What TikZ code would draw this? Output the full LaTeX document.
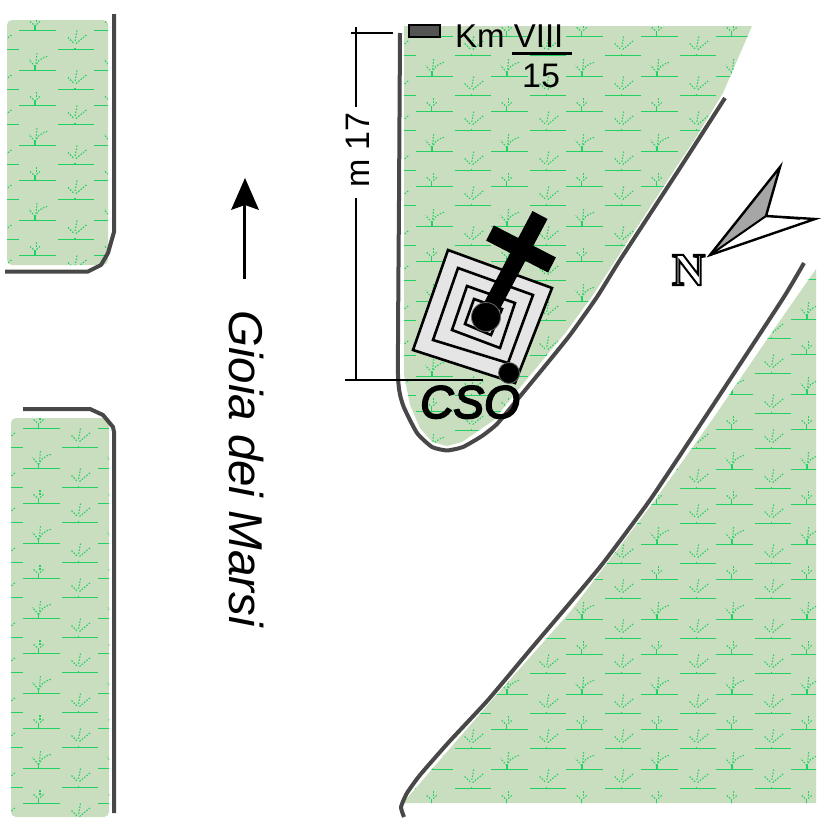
\documentclass[tikz,border=0pt]{standalone}
\usepackage{fontspec}
\setmainfont{Liberation Sans}
\newfontfamily\slabfont{Liberation Serif}
\definecolor{meadow}{HTML}{C8DEBE}
\definecolor{grass}{HTML}{22D064}
\definecolor{roadline}{HTML}{484848}
\tikzset{
  kerb/.style={draw=roadline,line width=4pt,line join=round},
  blade/.style={draw=grass,line width=1.2pt},
  dotted blade/.style={draw=grass,line width=1.1pt,dash pattern=on 1.5pt off 1.5pt},
  ring/.style={draw=black,line width=2.6pt,fill=none},
  dimline/.style={draw=black,line width=2pt},
  label text/.style={inner sep=0pt,text=black}
}
\newcommand{\plantBig}[2]{%
  \begin{scope}[shift={(#1,#2+0.5)}]
    \draw[blade] (-15.7,0) -- (21.3,0);
    \draw[blade,line width=1.8pt] (0,0) -- (0,-5);
    \draw[dotted blade] (0,-4) -- (-6,-11);
    \draw[dotted blade] (1,-7) -- (2,-18);
    \draw[dotted blade] (0,-4) -- (4,-10) -- (8,-12.5) -- (13,-14.5);
  \end{scope}}
\newcommand{\plantSmall}[2]{%
  \begin{scope}[shift={(#1,#2+0.5)}]
    \draw[blade] (-15.7,0) -- (21.3,0);
    \draw[blade] (0,0) -- (0,-6);
    \draw[dotted blade] (1.5,-9) -- (1.5,-14);
    \draw[dotted blade] (-5,-9) -- (-1.5,-6);
    \draw[dotted blade] (5,-9) -- (1.5,-6);
  \end{scope}}
\newcommand{\plantFan}[2]{%
  \begin{scope}[shift={(#1,#2+0.5)}]
    \draw[blade] (-17,0) -- (19,0);
    \draw[blade] (0,-2) -- (0,-1);
    \draw[dotted blade] (-7,-12) -- (-1,-6);
    \draw[dotted blade] (1,-6) -- (12,-15);
    \draw[dotted blade] (2,-19) -- (0,-8);
  \end{scope}}
\newcommand{\tile}[2]{%
  \plantBig{#1}{#2}\plantSmall{#1}{#2+35}%
  \plantFan{#1+40}{#2-21}\plantFan{#1+40}{#2+19}}
\begin{document}
\begin{tikzpicture}[x=1pt,y=-1pt]
\useasboundingbox (0,0) rectangle (827,827);
\fill[white] (0,0) rectangle (827,827);

% top-left meadow
\begin{scope}
  \clip[rounded corners=5pt] (7,20) rectangle (108,265);
  \fill[meadow] (0,0) rectangle (120,280);
  \foreach \ox in {-40,35,110} \foreach \oy in {-5,70,145,220,295} {\tile{\ox}{\oy}}
\end{scope}
% bottom-left meadow
\begin{scope}
  \clip[rounded corners=5pt] (11,418) rectangle (109,817);
  \fill[meadow] (0,400) rectangle (120,827);
  \foreach \ox in {-36.5,38.5,113.5} \foreach \oy in {393,468,543,618,693,768,843} {\tile{\ox}{\oy}}
\end{scope}
% central meadow
\begin{scope}
  \clip (404,26) -- (752,26) -- (723,93) -- (695,139) -- (677,166) -- (617,258) -- (593,295) -- (566,332)
     -- (513,396) -- (494,420) -- (462,442) -- (447,446) -- (432,442) -- (420,428) -- (410,405)
     -- (404,375) -- cycle;
  \fill[meadow] (390,20) rectangle (760,460);
  \foreach \ox in {356.7,431.7,506.7,581.7,656.7,731.7} \foreach \oy in {1,76,151,226,301,376,451} {\tile{\ox}{\oy}}
\end{scope}
% right meadow
\begin{scope}
  \clip (403,803) -- (433,768) -- (492,700) -- (570,612) -- (655,500) -- (712,420) -- (770,335) -- (816,269)
     -- (816,803) -- cycle;
  \fill[meadow] (400,260) rectangle (820,810);
  \foreach \ox in {356.7,431.7,506.7,581.7,656.7,731.7,806.7} \foreach \oy in {244,319,394,469,544,619,694,769,844} {\tile{\ox}{\oy}}
\end{scope}

% kerbs
\draw[kerb] (114,14) -- (114,232) -- (108,253) -- (101,265) -- (88,271.5) -- (5,271.5);
\draw[kerb] (23,409) -- (90,409) -- (103,415) -- (113,427) -- (114,432) -- (114,813);
\draw[kerb] plot[smooth,tension=0.3] coordinates {(400,33) (399,200) (398,375) (403,405) (417,433) (432,447) (447,450.5) (463,447)
   (482,436) (497,424) (517,400) (545,366) (570,335) (597,297) (620,260) (680,168) (725,98)};
\draw[kerb] plot[smooth,tension=0.3] coordinates {(804,263) (782,300) (700,425) (650,500) (600,567) (530,650) (488,700)
   (448,743) (420,775) (407,793) (401,807) (404,817)};

% dimension
\coordinate (dimtop) at (356,27);
\coordinate (dimbot) at (356,380);
\node[label text,rotate=90] (mlabel) at (358,150) {\fontsize{34}{34}\selectfont m 17};
\draw[dimline] (dimtop) -- (356,107);
\draw[dimline] (356,198) -- (dimbot);
\draw[dimline] (351,32.5) -- (393,32.5);
\draw[dimline] (345,380) -- (483,380);

% chapel
\filldraw[ring,fill=black!10] (448,250) -- (552,288) -- (515,383) -- (413,350) -- cycle;
\draw[ring] (458,268) -- (533,295) -- (508,363) -- (433,340) -- cycle;
\draw[ring] (467,286) -- (515,303) -- (500,348) -- (452,330) -- cycle;
\draw[ring] (474,299) -- (502,309) -- (491,335) -- (465,324) -- cycle;
\draw[black,line width=17pt] (486,317) -- (540,215);
\draw[black,line width=17pt] (490,233) -- (552,265);
\filldraw[fill=black,draw=black!60,line width=0.8pt] (486,317) circle (14.5);
\filldraw[fill=black,draw=black!60,line width=0.8pt] (509,373) circle (10.5);

% km stone
\filldraw[fill=black!67,draw=black,line width=2pt] (409,25) rectangle (440,37);
\node[label text,anchor=base west] (kmlabel) at (455,47) {\fontsize{33}{33}\selectfont Km VIII};
\draw[black,line width=3.6pt] (512,53.5) -- (572,53.5);
\node[label text,anchor=base] (kmnum) at (541,87) {\fontsize{34}{34}\selectfont 15};

% road direction
\draw[black,line width=3pt] (244,279) -- (244,200);
\fill[black] (245,178) -- (259,210) -- (245,205) -- (231,210) -- cycle;
\node[label text,rotate=-90] (road) at (246,468.5) {\fontsize{47.5}{47.5}\selectfont\itshape Gioia dei Marsi};
\node[label text,anchor=base west] (cso) at (420,418) {\special{pdf:code q 2 Tr 1.8 w}\fontsize{46}{46}\selectfont\itshape CSO\special{pdf:code Q}};

% north arrow
\fill[black!35] (710,255) -- (780,167) -- (766,216) -- cycle;
\draw[black,line width=2.4pt,line join=miter] (710,255) -- (780,167) -- (766,216) -- (815,219) -- cycle;
\draw[black,line width=2pt] (710,255) -- (766,216);
\draw[black,line width=1.5pt] (766,216) -- (800,219);
\node[label text,anchor=base] (north) at (688.5,285) {\special{pdf:code q 1 Tr 2 w}\fontsize{46}{46}\selectfont\slabfont\bfseries N\special{pdf:code Q}};
\end{tikzpicture}
\end{document}
